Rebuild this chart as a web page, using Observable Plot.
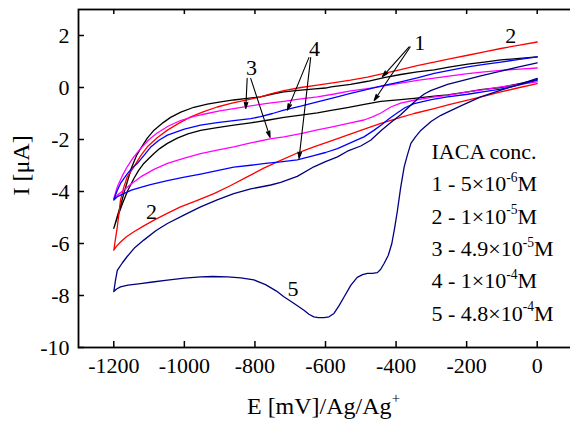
<!DOCTYPE html>
<html>
<head>
<meta charset="utf-8">
<script src="https://cdn.jsdelivr.net/npm/d3@7"></script>
<script src="https://cdn.jsdelivr.net/npm/@observablehq/plot@0.6"></script>
<style>
  html, body { margin: 0; padding: 0; background: #fff; }
</style>
</head>
<body>
<div id="chart"></div>
<script>
// ---- tick values ----
const xTicks = [-1200, -1000, -800, -600, -400, -200, 0];
const yTicks = [-10, -8, -6, -4, -2, 0, 2];

// ---- curve data: [E (mV), I (µA)], scan 0 -> -1200 -> 0 ----
const curve1 = [ // 5e-6 M, black
  [0,0.3],[-50,0.15],[-103,0.0],[-160,-0.08],[-197,-0.17],[-254,-0.28],[-292,-0.33],[-349,-0.42],[-387,-0.47],[-443,-0.53],[-490,-0.65],[-538,-0.77],[-584,-0.88],[-623,-0.98],[-670,-1.06],[-718,-1.15],[-765,-1.26],[-812,-1.36],[-860,-1.45],[-907,-1.54],[-954,-1.65],[-990,-1.78],[-1020,-1.95],[-1048,-2.15],[-1070,-2.35],[-1086,-2.54],[-1100,-2.72],[-1115,-2.92],[-1130,-3.2],[-1143,-3.5],[-1160,-3.95],[-1175,-4.45],[-1190,-5.0],[-1200,-5.42],
  [-1190,-4.95],[-1180,-4.5],[-1170,-4.0],[-1160,-3.55],[-1150,-3.1],[-1135,-2.6],[-1124,-2.35],[-1105,-1.95],[-1086,-1.64],[-1060,-1.35],[-1039,-1.15],[-1010,-0.95],[-973,-0.76],[-935,-0.64],[-897,-0.55],[-860,-0.48],[-822,-0.42],[-784,-0.36],[-750,-0.25],[-718,-0.17],[-670,-0.1],[-630,-0.05],[-600,-0.02],[-584,0.02],[-529,0.12],[-480,0.24],[-434,0.38],[-387,0.5],[-340,0.6],[-292,0.68],[-250,0.78],[-197,0.9],[-150,0.98],[-103,1.06],[-50,1.12],[0,1.18]
];
const curve2 = [ // 1e-5 M, red
  [0,0.15],[-50,0.0],[-103,-0.17],[-150,-0.33],[-197,-0.49],[-250,-0.66],[-292,-0.81],[-349,-1.0],[-387,-1.15],[-443,-1.38],[-490,-1.6],[-538,-1.83],[-584,-2.05],[-633,-2.28],[-680,-2.52],[-727,-2.8],[-775,-3.1],[-822,-3.44],[-870,-3.78],[-916,-4.08],[-965,-4.35],[-1011,-4.59],[-1050,-4.85],[-1086,-5.1],[-1115,-5.32],[-1143,-5.55],[-1165,-5.75],[-1181,-5.94],[-1192,-6.1],[-1200,-6.26],
  [-1195,-5.8],[-1190,-5.36],[-1185,-4.8],[-1181,-4.33],[-1172,-3.85],[-1162,-3.44],[-1143,-3.05],[-1125,-2.65],[-1105,-2.28],[-1077,-1.93],[-1048,-1.64],[-1015,-1.37],[-982,-1.13],[-945,-0.93],[-907,-0.75],[-865,-0.6],[-822,-0.48],[-784,-0.36],[-750,-0.23],[-718,-0.12],[-670,0.0],[-623,0.09],[-575,0.19],[-529,0.28],[-481,0.4],[-434,0.54],[-387,0.69],[-340,0.84],[-292,0.98],[-245,1.11],[-197,1.24],[-150,1.37],[-103,1.5],[-50,1.63],[0,1.75]
];
const curve3 = [ // 4.9e-5 M, magenta
  [0,0.22],[-50,0.12],[-103,0.02],[-150,-0.08],[-197,-0.17],[-254,-0.3],[-300,-0.38],[-349,-0.49],[-387,-0.6],[-415,-0.75],[-443,-0.98],[-465,-1.12],[-491,-1.25],[-529,-1.36],[-584,-1.52],[-623,-1.63],[-670,-1.77],[-718,-1.9],[-757,-1.98],[-812,-2.13],[-860,-2.28],[-907,-2.41],[-954,-2.54],[-1000,-2.72],[-1048,-2.92],[-1086,-3.15],[-1124,-3.44],[-1150,-3.7],[-1172,-3.95],[-1188,-4.12],[-1200,-4.27],
  [-1190,-3.82],[-1176,-3.4],[-1162,-3.05],[-1145,-2.7],[-1124,-2.35],[-1100,-2.0],[-1077,-1.75],[-1045,-1.48],[-1011,-1.27],[-970,-1.1],[-935,-1.0],[-900,-0.9],[-860,-0.81],[-812,-0.71],[-765,-0.61],[-718,-0.53],[-670,-0.44],[-623,-0.36],[-575,-0.25],[-529,-0.13],[-481,-0.04],[-434,0.06],[-387,0.17],[-340,0.27],[-292,0.36],[-245,0.45],[-197,0.53],[-150,0.6],[-103,0.66],[-50,0.71],[0,0.75]
];
const curve4 = [ // 1e-4 M, blue
  [0,0.28],[-50,0.1],[-103,-0.06],[-150,-0.16],[-197,-0.26],[-254,-0.36],[-300,-0.47],[-349,-0.62],[-375,-0.78],[-396,-0.97],[-420,-1.2],[-440,-1.42],[-462,-1.64],[-491,-1.9],[-520,-2.07],[-566,-2.35],[-600,-2.5],[-633,-2.62],[-680,-2.78],[-727,-2.86],[-770,-2.92],[-812,-2.99],[-860,-3.06],[-907,-3.2],[-954,-3.33],[-1000,-3.45],[-1048,-3.58],[-1096,-3.74],[-1124,-3.84],[-1150,-3.95],[-1172,-4.08],[-1190,-4.2],[-1200,-4.33],
  [-1190,-3.95],[-1181,-3.69],[-1165,-3.38],[-1150,-3.12],[-1132,-2.9],[-1115,-2.62],[-1096,-2.3],[-1072,-2.03],[-1048,-1.83],[-1000,-1.6],[-954,-1.45],[-907,-1.35],[-860,-1.27],[-812,-1.2],[-784,-1.12],[-750,-1.0],[-718,-0.87],[-670,-0.72],[-623,-0.55],[-575,-0.39],[-529,-0.23],[-481,-0.07],[-434,0.08],[-387,0.22],[-340,0.37],[-292,0.54],[-245,0.67],[-197,0.79],[-150,0.89],[-103,0.98],[-50,1.08],[0,1.18]
];
const curve5 = [ // 4.8e-4 M, navy
  [0,0.35],[-50,0.12],[-103,-0.1],[-160,-0.36],[-215,-0.7],[-254,-0.95],[-273,-1.07],[-300,-1.3],[-330,-1.65],[-345,-1.9],[-358,-2.15],[-368,-2.6],[-377,-3.05],[-387,-3.85],[-396,-4.72],[-404,-5.4],[-412,-6.0],[-422,-6.45],[-434,-6.77],[-444,-7.0],[-453,-7.12],[-467,-7.15],[-481,-7.15],[-495,-7.2],[-510,-7.3],[-528,-7.6],[-547,-8.05],[-562,-8.4],[-576,-8.69],[-590,-8.82],[-604,-8.85],[-620,-8.85],[-633,-8.82],[-647,-8.72],[-661,-8.57],[-690,-8.3],[-718,-8.05],[-740,-7.82],[-770,-7.58],[-803,-7.4],[-840,-7.32],[-878,-7.28],[-920,-7.27],[-954,-7.28],[-1000,-7.33],[-1048,-7.41],[-1090,-7.48],[-1124,-7.54],[-1160,-7.6],[-1181,-7.67],[-1192,-7.75],[-1200,-7.85],
  [-1195,-7.4],[-1190,-7.03],[-1176,-6.75],[-1162,-6.5],[-1140,-6.15],[-1115,-5.87],[-1080,-5.5],[-1048,-5.23],[-1000,-4.9],[-954,-4.59],[-907,-4.32],[-860,-4.08],[-812,-3.9],[-755,-3.75],[-727,-3.65],[-680,-3.42],[-633,-3.05],[-600,-2.85],[-566,-2.67],[-538,-2.45],[-500,-2.25],[-472,-2.03],[-443,-1.66],[-415,-1.35],[-387,-1.05],[-360,-0.7],[-340,-0.45],[-320,-0.25],[-302,-0.12],[-254,0.12],[-207,0.28],[-160,0.45],[-112,0.6],[-55,0.78],[0,0.95]
];

const curveNames = ["1", "2", "3", "4", "5"];
const curveColors = ["#000000", "#ff0000", "#ff00ff", "#0000ff", "#000080"];

// ---- annotations (data coordinates) ----
const labelTexts = ["1", "2", "2", "3", "4", "5"];
const labelE = [-333, -75, -1093, -810, -631, -692];
const labelI = [1.72, 1.99, -4.78, 0.74, 1.5, -7.73];

const arrowE1 = [-822, -812, -647, -642, -363, -360];
const arrowI1 = [0.35, 0.35, 1.15, 1.15, 1.56, 1.56];
const arrowE2 = [-826, -757, -708, -675, -439, -462];
const arrowI2 = [-0.81, -1.92, -0.87, -2.73, 0.41, -0.5];

const legendLines = [
  "IACA conc.",
  "1 - 5×10^{-6}M",
  "2 - 1×10^{-5}M",
  "3 - 4.9×10^{-5}M",
  "4 - 1×10^{-4}M",
  "5 - 4.8×10^{-4}M"
];
const xLabel = "E [mV]/Ag/Ag^{+}";
const yLabel = "I [μA]";

// ---- build tables ----
const curves = [curve1, curve2, curve3, curve4, curve5];
const rows = curves.flatMap((c, k) => c.map(([E, I], i) => ({curve: curveNames[k], E, I, i})));
const labels = labelTexts.map((t, i) => ({t, E: labelE[i], I: labelI[i]}));
const arrows = arrowE1.map((_, i) => ({x1: arrowE1[i], y1: arrowI1[i], x2: arrowE2[i], y2: arrowI2[i]}));

const W = 570, H = 421;
const mL = 78, mT = 9, mB = 74, mR = -2;
const plotW = W - mL - mR, plotH = H - mT - mB;

const marks = [
  Plot.frame({stroke: "black", strokeWidth: 1.8}),
  Plot.tickX(xTicks, {x: d => d, insetTop: plotH - 6, stroke: "black", strokeWidth: 1.5}),
  Plot.tickX(xTicks, {x: d => d, insetBottom: plotH - 5, stroke: "black", strokeWidth: 1.5}),
  Plot.tickY(yTicks, {y: d => d, insetRight: plotW - 6, stroke: "black", strokeWidth: 1.5}),
  Plot.axisX({ticks: xTicks, tickFormat: d => String(d), tickSize: 0, tickPadding: 10, label: null, fontSize: 22}),
  Plot.axisY({ticks: yTicks, tickFormat: d => String(d), tickSize: 0, tickPadding: 9, label: null, fontSize: 22}),
  ...curveNames.map((n, k) => Plot.line(rows.filter(r => r.curve === n), {
    x: "E", y: "I", stroke: curveColors[k], strokeWidth: 1.3, curve: "linear"
  })),
  Plot.arrow(arrows, {x1: "x1", y1: "y1", x2: "x2", y2: "y2", stroke: "black", fill: "black", strokeWidth: 1.1, headLength: 9, headAngle: 32}),
  Plot.text(labels, {x: "E", y: "I", text: "t", fontSize: 22, fill: "black"}),
  ...legendLines.map((t, i) => Plot.text([t], {
    frameAnchor: "top-left", dx: 431 - mL, dy: 158.5 - mT + i * 32.3,
    textAnchor: "start", lineAnchor: "bottom", fontSize: 22, fill: "black"
  })),
  Plot.text([xLabel], {frameAnchor: "bottom", dx: -2, dy: 66, lineAnchor: "bottom", fontSize: 24, fill: "black"}),
  Plot.text([yLabel], {frameAnchor: "left", dx: -57, dy: 17, rotate: -90, lineAnchor: "middle", fontSize: 24, fill: "black"})
];

const svg = Plot.plot({
  width: W, height: H,
  marginLeft: mL, marginTop: mT, marginBottom: mB, marginRight: mR,
  x: {domain: [-1300, 100], axis: null},
  y: {domain: [-10, 3], axis: null},
  style: {fontFamily: "'Liberation Serif', 'Times New Roman', serif", fontSize: "22px", color: "black", background: "white", overflow: "hidden"},
  marks
});
document.getElementById("chart").appendChild(svg);

// superscript rendering for "^{...}"
const NS = "http://www.w3.org/2000/svg";
svg.querySelectorAll("text").forEach(t => {
  const s = t.textContent;
  if (!s.includes("^{")) return;
  const fs = parseFloat(getComputedStyle(t).fontSize) || 22;
  const parts = s.split(/\^\{([^}]*)\}/);
  while (t.firstChild) t.removeChild(t.firstChild);
  parts.forEach((p, i) => {
    if (!p) return;
    const ts = document.createElementNS(NS, "tspan");
    ts.textContent = p;
    if (i % 2 === 1) {
      ts.setAttribute("font-size", (fs * 0.62).toFixed(1));
      ts.setAttribute("dy", (-fs * 0.42).toFixed(1));
    } else if (i > 0) {
      ts.setAttribute("dy", (fs * 0.42).toFixed(1));
    }
    t.appendChild(ts);
  });
});
</script>
</body>
</html>
